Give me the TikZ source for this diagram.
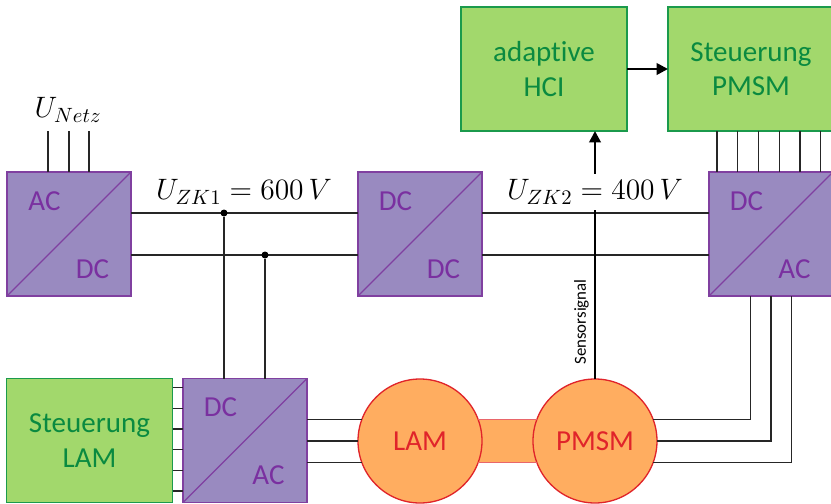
\documentclass[tikz,border=0pt]{standalone}
\usepackage{fix-cm}
\usepackage{fontspec}
\setmainfont[Ligatures=NoCommon]{Carlito}
\usetikzlibrary{arrows.meta,backgrounds}

\definecolor{convfill}{HTML}{998AC0}
\definecolor{convdraw}{HTML}{8040A0}
\definecolor{convtext}{HTML}{7A30A0}
\definecolor{ctrlfill}{HTML}{A2D86C}
\definecolor{ctrldraw}{HTML}{1B9A4C}
\definecolor{ctrltext}{HTML}{0A8A40}
\definecolor{motorfill}{HTML}{FFAD60}
\definecolor{motordraw}{HTML}{E0242A}

\tikzset{
    bigfont/.style={font=\fontsize{16.5}{19.5}\selectfont},
    conv/.style={draw=convdraw, line width=0.75pt, fill=convfill, minimum size=2.48cm, inner sep=0pt, outer sep=0pt},
    convlabel/.style={bigfont, text=convtext, inner sep=0pt},
    ctrl/.style={draw=ctrldraw, line width=0.85pt, fill=ctrlfill, minimum height=2.48cm, minimum width=3.32cm, inner sep=0pt, outer sep=0pt, bigfont, text=ctrltext, align=center, execute at begin node={\rule{0pt}{15pt}}},
    motor/.style={circle, draw=motordraw, line width=0.75pt, fill=motorfill, minimum size=2.48cm, inner sep=0pt, outer sep=0pt, bigfont, text=motordraw},
    wire/.style={line width=0.75pt, black!85},
    signal/.style={line width=1.5pt, -{Triangle[length=6.5pt,width=6.5pt]}},
    junction/.style={circle, fill=black, minimum size=0.14cm, inner sep=0pt},
    mathlabel/.style={font=\fontsize{16.8}{20}\selectfont, inner sep=0pt}
}

\begin{document}
\begin{tikzpicture}[scale=1, every node/.style={align=center}]
    \useasboundingbox (0,0) rectangle (16.62,10.06);

    % converters
    \node[conv] (ac1) at (1.38,5.38) {};
    \node[conv] (dc2) at (8.40,5.38) {};
    \node[conv] (dc3) at (15.42,5.38) {};
    \node[conv] (dc4) at (4.90,1.25) {};
    \foreach \n/\a/\b in {ac1/AC/DC, dc2/DC/DC, dc3/DC/AC, dc4/DC/AC} {
        \draw[draw=convdraw, line width=0.75pt] (\n.south west) -- (\n.north east);
        \node[convlabel] (\n a) at ([xshift=-0.49cm,yshift=0.66cm]\n.center) {\a};
        \node[convlabel] (\n b) at ([xshift=0.47cm,yshift=-0.70cm]\n.center) {\b};
    }

    % control blocks
    \node[ctrl] (stlam) at (1.79,1.25) {Steuerung\\LAM};
    \node[ctrl] (hci) at (10.88,8.68) {adaptive\\HCI};
    \node[ctrl] (stpmsm) at (15.02,8.68) {Steuerung\\PMSM};

    % machines and shaft
    \node[motor] (lam) at (8.40,1.24) {LAM};
    \node[motor] (pmsm) at (11.90,1.24) {PMSM};
    \begin{scope}[on background layer]
        \fill[motorfill] (lam.20) rectangle (pmsm.200);
    \end{scope}
    \draw[motordraw!70, line width=0.75pt] (lam.20) -- (pmsm.160);
    \draw[motordraw!70, line width=0.75pt] (lam.-20) -- (pmsm.200);

    % mains input
    \node[mathlabel] (unetz) at (1.36,7.86) {$U_{Netz}$};
    \coordinate (netz) at (1.38,7.44);
    \foreach \x in {-0.42,0,0.40} {
        \draw[wire] ([xshift=\x cm]ac1.north) -- ([xshift=\x cm]netz);
    }

    % DC links
    \foreach \y in {0.42,-0.42} {
        \draw[wire] ([yshift=\y cm]ac1.east) -- ([yshift=\y cm]dc2.west);
        \draw[wire] ([yshift=\y cm]dc2.east) -- ([yshift=\y cm]dc3.west);
    }
    \node[junction] (j1) at (4.48,5.80) {};
    \node[junction] (j2) at (5.30,4.96) {};
    \draw[wire] (j1) -- (j1 |- dc4.north);
    \draw[wire] (j2) -- (j2 |- dc4.north);

    % three phase lines
    \draw[wire] (dc4.east |- lam.160) -- (lam.160);
    \draw[wire] (dc4.east |- lam.west) -- (lam.west);
    \draw[wire] (dc4.east |- lam.200) -- (lam.200);
    \draw[wire] (pmsm.20) -| ([xshift=-0.41cm]dc3.south);
    \draw[wire] (pmsm.east) -| (dc3.south);
    \draw[wire] (pmsm.-20) -| ([xshift=0.41cm]dc3.south);

    % gate signals
    \foreach \y in {1.06,0.645,0.23,-0.18,-0.595,-1.01} {
        \draw[wire] ([yshift=\y cm]stlam.east) -- ([yshift=\y cm]dc4.west);
    }
    \foreach \x in {-0.68,-0.265,0.15,0.565,0.98,1.395} {
        \draw[wire] ([xshift=\x cm]stpmsm.south) -- ([xshift=\x cm]stpmsm.south |- dc3.north);
    }

    % sensor path
    \draw[signal] (pmsm.north) -- (pmsm.north |- hci.south);
    \draw[signal] (hci.east) -- (stpmsm.west);
    \node[rotate=90, font=\fontsize{9.6}{11}\selectfont, inner sep=0pt] (sensor) at (11.63,3.62) {Sensorsignal};

    % link voltages
    \node[mathlabel] (uzk1) at (4.88,6.22) {$U_{ZK1}=600\,V$};
    \node[mathlabel, fill=white, minimum height=0.72cm] (uzk2) at (11.90,6.22) {$U_{ZK2}=400\,V$};
\end{tikzpicture}
\end{document}
